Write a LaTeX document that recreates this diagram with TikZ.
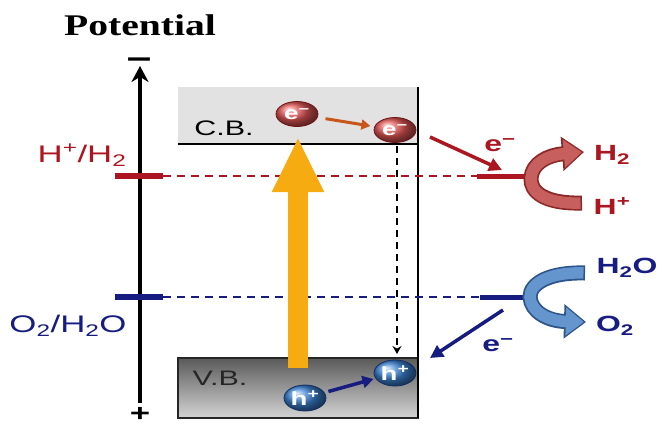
\documentclass[tikz,border=0pt]{standalone}
\usepackage{fontspec}
\setmainfont{Liberation Sans}
\newfontfamily\lab{Liberation Sans}[FakeStretch=1.45]
\newfontfamily\titlefont{Liberation Serif}[FakeStretch=1.32]
\usetikzlibrary{arrows.meta,shapes.geometric}
\definecolor{hred}{RGB}{172,22,32}
\definecolor{onavy}{RGB}{22,28,128}
\definecolor{orng}{RGB}{246,172,16}
\definecolor{cbgrey}{RGB}{226,226,226}
\definecolor{ribred}{RGB}{200,95,95}
\definecolor{ribredd}{RGB}{140,40,40}
\definecolor{ribblue}{RGB}{100,150,205}
\definecolor{ribblued}{RGB}{45,85,140}
\definecolor{eball}{RGB}{225,85,85}
\definecolor{hball}{RGB}{60,130,210}
\definecolor{earrow}{RGB}{200,85,25}
\begin{document}
\begin{tikzpicture}[x=1pt,y=-1pt,
  lblb/.style={inner sep=0pt, font=\lab\bfseries\fontsize{22}{24}\selectfont},
  lblr/.style={inner sep=0pt, font=\lab\fontsize{24}{26}\selectfont},
  bandlbl/.style={inner sep=0pt, font=\lab\fontsize{21}{23}\selectfont},
  ebl/.style={ellipse, minimum width=42pt, minimum height=25pt, inner sep=0pt,
    shade, ball color=eball, draw={rgb,255:red,110;green,20;blue,20}, line width=0.8pt,
    text=white, font=\lab\bfseries\fontsize{18}{18}\selectfont},
  hbl/.style={ellipse, minimum width=42pt, minimum height=26pt, inner sep=0pt,
    shade, ball color=hball, draw={rgb,255:red,15;green,45;blue,100}, line width=0.8pt,
    text=white, font=\lab\bfseries\fontsize{19}{19}\selectfont},
  tick/.style={line width=6pt},
  dashl/.style={line width=2.5pt, dash pattern=on 8pt off 6pt},
  ribout/.style={line width=15pt, -{Triangle[length=22pt,width=33pt]}},
  ribin/.style={line width=11.5pt, shorten >=2.2pt, -{Triangle[length=18pt,width=27pt]}}
]
\useasboundingbox (0,0) rectangle (662,426);
\fill[white] (0,0) rectangle (662,426);

% title
\node[font=\titlefont\bfseries\fontsize{30}{32}\selectfont, inner sep=0pt] (title) at (140,25) {Potential};

% potential axis
\coordinate (axb) at (140,403);
\coordinate (axt) at (140,66);
\draw[line width=3.5pt, -{Stealth[length=16pt,width=17pt]}] (axb) -- (axt);
\node[font=\lab\bfseries\fontsize{30}{30}\selectfont, inner sep=0pt] (minus) at (139,64) {−};
\node[font=\lab\bfseries\fontsize{24}{24}\selectfont, inner sep=0pt] (plus) at (140,414) {+};

% CB region
\fill[cbgrey] (178,87) rectangle (418,144);
\coordinate (cbl) at (178,144);
\coordinate (cbr) at (418,144);
\coordinate (rtop) at (418,87);
\coordinate (rbot) at (418,418);
\draw[line width=1.5pt] (cbl) -- (cbr);
\node[bandlbl] (cb) at (224,128) {C.B.};

% VB region
\shade[top color={rgb,255:red,90;green,90;blue,90}, bottom color={rgb,255:red,212;green,212;blue,212}] (178,358) rectangle (418,418);
\draw[line width=1.2pt, black!85] (178,358) rectangle (418,418);
\draw[line width=1.5pt] (rtop) -- (rbot);
\node[bandlbl, text=black!85] (vb) at (220,378) {V.B.};

% levels
\coordinate (rt1) at (115,176); \coordinate (rt2) at (163,176);
\coordinate (rd2) at (477,176); \coordinate (rl2) at (527,176);
\draw[hred, tick] (rt1) -- (rt2);
\draw[hred, dashl] (rt2) -- (rd2);
\draw[hred, line width=5pt] (rd2) -- (rl2);
\coordinate (bt1) at (115,297); \coordinate (bt2) at (163,297);
\coordinate (bd2) at (480,297); \coordinate (bl2) at (528,297);
\draw[onavy, tick] (bt1) -- (bt2);
\draw[onavy, dashl] (bt2) -- (bd2);
\draw[onavy, line width=5pt] (bd2) -- (bl2);

\node[lblr, text=hred] (hh2) at (82,155) {H\textsuperscript{+}/H\textsubscript{2}};
\node[lblr, text=onavy] (oh2o) at (68,326) {O\textsubscript{2}/H\textsubscript{2}O};

% excitation arrow
\coordinate (ob) at (298,368);
\coordinate (ot) at (298,137);
\draw[orng, line width=20pt, -{Triangle[length=55pt,width=48pt]}] (ob) -- (ot);

% electrons
\node[ebl] (e1) at (297,114) {e\textsuperscript{−}};
\node[ebl] (e2) at (395,130) {e\textsuperscript{−}};
\draw[earrow, line width=3pt, -{Triangle[length=9pt,width=10pt]}, shorten <=8pt, shorten >=4pt] (e1) -- (e2);

% relaxation dashed arrow
\coordinate (dtop) at (397,146);
\coordinate (dbot) at (397,354);
\draw[line width=2.5pt, dash pattern=on 7pt off 5pt, -{Stealth[length=8pt,width=9pt]}] (dtop) -- (dbot);

% holes
\node[hbl] (h1) at (305,398) {h\textsuperscript{+}};
\node[hbl] (h2) at (395,373) {h\textsuperscript{+}};
\draw[onavy, line width=3.5pt, -{Triangle[length=11pt,width=12pt]}, shorten <=4pt, shorten >=2pt] (h1) -- (h2);

% electron transfer to H+
\coordinate (ra1) at (430,137);
\coordinate (ra2) at (502,170);
\draw[hred, line width=3.5pt, -{Triangle[length=13pt,width=13pt]}] (ra1) -- (ra2);
\node[lblb, text=hred] (em1) at (500,145) {e\textsuperscript{−}};

% electron from H2O
\coordinate (ba1) at (503,310);
\coordinate (ba2) at (430,358);
\draw[onavy, line width=3.5pt, -{Triangle[length=13pt,width=13pt]}] (ba1) -- (ba2);
\node[lblb, text=onavy] (em2) at (498,345) {e\textsuperscript{−}};

% reaction ribbons
\coordinate (rs) at (582,203);
\coordinate (re) at (584,152);
\draw[ribredd, ribout] (rs) .. controls (545,204) and (530,192) .. (531,178)
  .. controls (532,163) and (548,155) .. (re);
\draw[ribred, ribin, shorten <=1.5pt] (rs) .. controls (545,204) and (530,192) .. (531,178)
  .. controls (532,163) and (548,155) .. (re);
\coordinate (bs) at (585,273);
\coordinate (be) at (586,322);
\draw[ribblued, ribout] (bs) .. controls (550,272) and (530,283) .. (530,297)
  .. controls (531,312) and (548,321) .. (be);
\draw[ribblue, ribin, shorten <=1.5pt] (bs) .. controls (550,272) and (530,283) .. (530,297)
  .. controls (531,312) and (548,321) .. (be);

\node[lblb, text=hred] (lh2) at (612,155) {H\textsubscript{2}};
\node[lblb, text=hred] (lhp) at (612,206) {H\textsuperscript{+}};
\node[lblb, text=onavy] (lh2o) at (627,268) {H\textsubscript{2}O};
\node[lblb, text=onavy] (lo2) at (615,326) {O\textsubscript{2}};
\end{tikzpicture}
\end{document}
